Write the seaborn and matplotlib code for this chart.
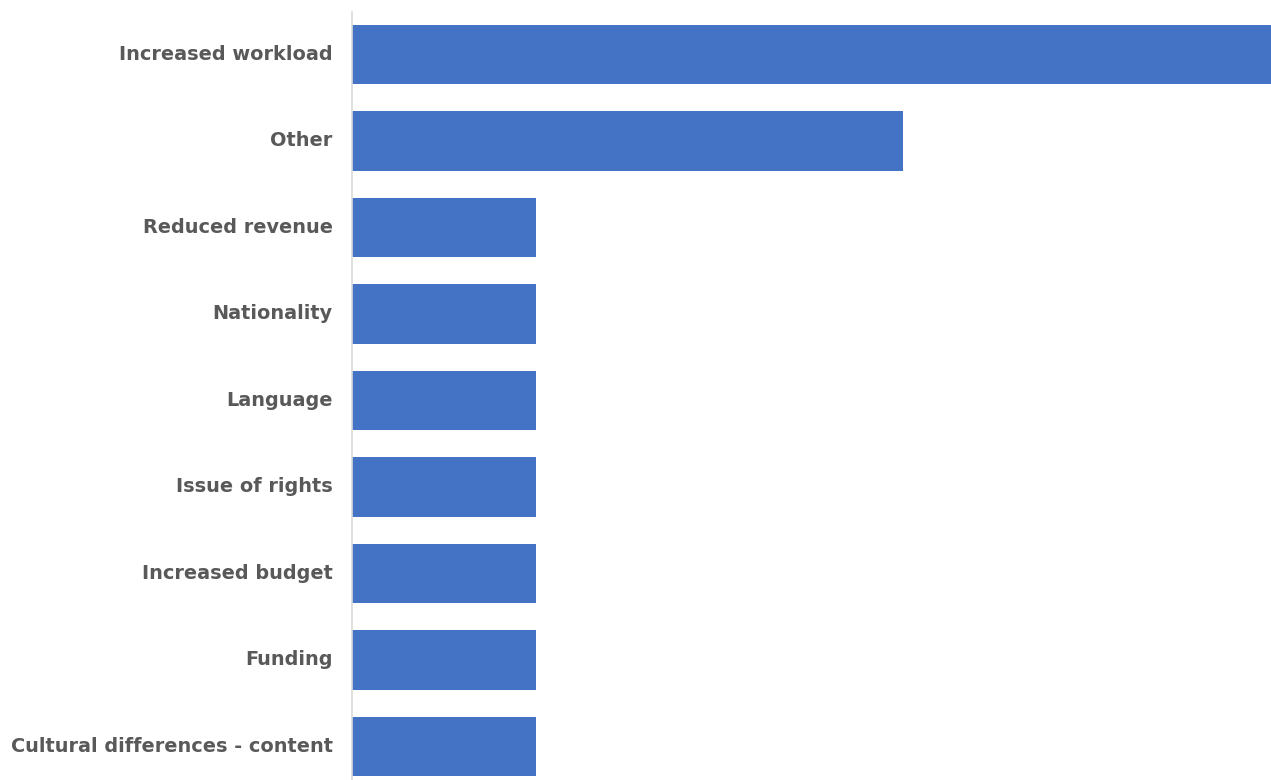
import matplotlib
matplotlib.use("Agg")
import matplotlib.pyplot as plt
import matplotlib.transforms as mtransforms
import seaborn as sns
import pandas as pd

categories = [
    "Increased workload",
    "Other",
    "Reduced revenue",
    "Nationality",
    "Language",
    "Issue of rights",
    "Increased budget",
    "Funding",
    "Cultural differences - content",
]
counts = [5, 3, 1, 1, 1, 1, 1, 1, 1]

df = pd.DataFrame({"category": categories, "count": counts})

sns.set_style("white")
plt.rcParams["font.family"] = ["DejaVu Sans"]

W, H = 1271, 780
fig = plt.figure(figsize=(W / 100, H / 100), dpi=100)
unit = 86.5  # pixels per category slot
top_px = 12
y_lo, y_hi = -0.49, 8.5
ax_h = (y_hi - y_lo) * unit
ax = fig.add_axes([352 / W, 1 - (top_px + ax_h) / H, (W - 352) / W, ax_h / H])

sns.barplot(data=df, y="category", x="count", orient="h", color="#4472C4",
            saturation=1, width=0.69, linewidth=0, ax=ax)

ax.set_xlim(0, 5)
ax.set_ylim(y_hi, y_lo)
ax.set_xlabel("")
ax.set_ylabel("")
ax.set_xticks([])
for side in ["top", "right", "bottom"]:
    ax.spines[side].set_visible(False)
ax.spines["left"].set_color("#d9d9d9")
ax.spines["left"].set_linewidth(1.2)
ax.tick_params(axis="y", length=0, pad=14)
lift = mtransforms.ScaledTranslation(0, 2 / 100, fig.dpi_scale_trans)
for lbl in ax.get_yticklabels():
    lbl.set_fontsize(13.9)
    lbl.set_fontweight("bold")
    lbl.set_color("#595959")
    lbl.set_transform(lbl.get_transform() + lift)

fig.savefig("out.png", dpi=100)
